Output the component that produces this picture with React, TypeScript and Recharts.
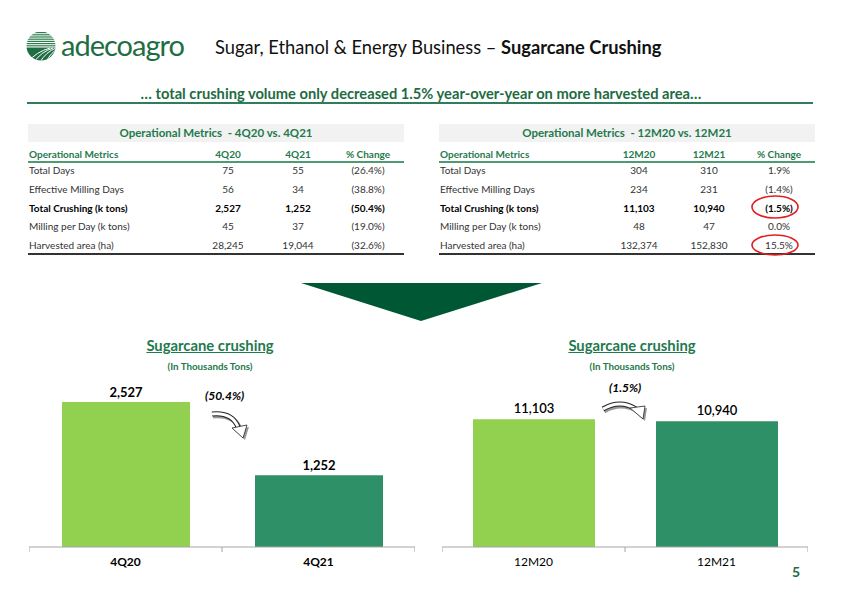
import React from 'react';
import { BarChart, Bar, XAxis, YAxis, Cell, LabelList } from 'recharts';

const quarterCategories = ['4Q20', '4Q21'];
const quarterValues = [2527, 1252];
const yearCategories = ['12M20', '12M21'];
const yearValues = [11103, 10940];
const quarterChangeLabel = '(50.4%)';
const yearChangeLabel = '(1.5%)';
const barColors = ['#92D050', '#2E9066'];

const metricNames = [
  'Total Days',
  'Effective Milling Days',
  'Total Crushing (k tons)',
  'Milling per Day (k tons)',
  'Harvested area (ha)',
];
const q20Values = ['75', '56', '2,527', '45', '28,245'];
const q21Values = ['55', '34', '1,252', '37', '19,044'];
const qChangeValues = ['(26.4%)', '(38.8%)', '(50.4%)', '(19.0%)', '(32.6%)'];
const m20Values = ['304', '234', '11,103', '48', '132,374'];
const m21Values = ['310', '231', '10,940', '47', '152,830'];
const mChangeValues = ['1.9%', '(1.4%)', '(1.5%)', '0.0%', '15.5%'];

const FONT = 'Lato, "Open Sans", sans-serif';
const GREEN = '#1F7A4D';
const DARK_GREEN = '#005733';

const quarterData = quarterCategories.map((name, i) => ({ name, value: quarterValues[i], pos: i + 0.5 }));
const yearData = yearCategories.map((name, i) => ({ name, value: yearValues[i], pos: i + 0.5 }));

const fmt = (v: any) => Number(v).toLocaleString('en-US');

function MetricsTable(props: {
  left: number;
  title: string;
  colA: string;
  colB: string;
  a: string[];
  b: string[];
  c: string[];
}) {
  const { left, title, colA, colB, a, b, c } = props;
  const width = 376;
  const colCenters = [200, 270, 340];
  const cell = (text: string, cx: number, top: number, style: React.CSSProperties, key: string) => (
    <div
      key={key}
      style={{
        position: 'absolute',
        left: left + cx - 40,
        width: 80,
        top,
        height: 19,
        lineHeight: '19px',
        textAlign: 'center',
        whiteSpace: 'nowrap',
        ...style,
      }}
    >
      {text}
    </div>
  );
  const headerStyle: React.CSSProperties = { color: GREEN, fontWeight: 'bold', fontSize: 10 };
  return (
    <>
      <div
        style={{
          position: 'absolute',
          left,
          top: 124,
          width,
          height: 18,
          lineHeight: '18px',
          background: '#F2F2F2',
          textAlign: 'center',
          color: GREEN,
          fontWeight: 'bold',
          fontSize: 11.5,
          whiteSpace: 'pre',
        }}
      >
        {title}
      </div>
      <div style={{ position: 'absolute', left: left + 1, top: 145, height: 19, lineHeight: '19px', ...headerStyle }}>
        Operational Metrics
      </div>
      {cell(colA, colCenters[0], 145, headerStyle, 'ha')}
      {cell(colB, colCenters[1], 145, headerStyle, 'hb')}
      {cell('% Change', colCenters[2], 145, headerStyle, 'hc')}
      <div style={{ position: 'absolute', left, top: 161, width, height: 1.5, background: '#4E9A72' }} />
      {metricNames.map((name, i) => {
        const top = 161 + i * 18.8;
        const bold = i === 2;
        const st: React.CSSProperties = {
          color: bold ? '#000' : '#333',
          fontWeight: bold ? 'bold' : 'normal',
          fontSize: 10,
        };
        return (
          <React.Fragment key={name}>
            <div style={{ position: 'absolute', left: left + 1, top, height: 19, lineHeight: '19px', whiteSpace: 'nowrap', ...st }}>
              {name}
            </div>
            {cell(a[i], colCenters[0], top, st, 'a' + i)}
            {cell(b[i], colCenters[1], top, st, 'b' + i)}
            {cell(c[i], colCenters[2], top, st, 'c' + i)}
          </React.Fragment>
        );
      })}
      <div style={{ position: 'absolute', left, top: 253, width, height: 1.5, background: '#333' }} />
    </>
  );
}

function ChartTitle({ cx }: { cx: number }) {
  return (
    <>
      <div
        style={{
          position: 'absolute',
          left: cx - 120,
          width: 240,
          top: 336,
          textAlign: 'center',
          color: GREEN,
          fontWeight: 'bold',
          fontSize: 14.8,
          textDecoration: 'underline',
          lineHeight: '18px',
        }}
      >
        Sugarcane crushing
      </div>
      <div
        style={{
          position: 'absolute',
          left: cx - 120,
          width: 240,
          top: 359,
          textAlign: 'center',
          color: GREEN,
          fontWeight: 'bold',
          fontSize: 9.8,
          lineHeight: '14px',
        }}
      >
        (In Thousands Tons)
      </div>
    </>
  );
}

function SmallBarChart(props: {
  data: { name: string; value: number; pos: number }[];
  left: number;
  plotTop: number;
  width: number;
  plotHeight: number;
  max: number;
  barSize: number;
  bold: boolean;
  labelOffset: number;
}) {
  const { data, left, plotTop, width, plotHeight, max, barSize, bold, labelOffset } = props;
  const ticks: number[] = [];
  for (let i = 0; i <= data.length * 2; i++) ticks.push(i / 2);
  const renderTick = (p: any) => {
    const v = Number(p.payload.value);
    if (Math.abs(v - Math.round(v)) < 1e-6) {
      return <line x1={p.x} x2={p.x} y1={p.y - 5} y2={p.y} stroke="#A6A6A6" strokeWidth={1} />;
    }
    const name = data[Math.floor(v)]?.name ?? '';
    return (
      <text
        x={p.x}
        y={p.y + 11}
        textAnchor="middle"
        dominantBaseline="middle"
        fill="#000"
        fontSize={12}
        fontWeight={bold ? 'bold' : 'normal'}
        fontFamily={FONT}
      >
        {name}
      </text>
    );
  };
  return (
    <div style={{ position: 'absolute', left, top: plotTop }}>
      <BarChart
        width={width}
        height={plotHeight + 36}
        data={data}
        margin={{ top: 0, right: 0, bottom: 0, left: 0 }}
      >
        <XAxis xAxisId="cat" dataKey="name" hide height={0} />
        <XAxis
          xAxisId="edge"
          dataKey="pos"
          type="number"
          domain={[0, data.length]}
          allowDataOverflow
          ticks={ticks}
          interval={0}
          height={36}
          tickSize={5}
          tickMargin={0}
          axisLine={{ stroke: '#A6A6A6', strokeWidth: 1 }}
          tickLine={false}
          tick={renderTick}
        />
        <YAxis hide domain={[0, max]} />
        <Bar dataKey="value" xAxisId="cat" barSize={barSize} isAnimationActive={false}>
          {data.map((d, i) => (
            <Cell key={d.name} fill={barColors[i % barColors.length]} />
          ))}
          <LabelList
            dataKey="value"
            position="top"
            offset={labelOffset}
            formatter={fmt}
            fill="#000"
            fontSize={13}
            fontWeight={bold ? 'bold' : 600}
            fontFamily={FONT}
          />
        </Bar>
      </BarChart>
    </div>
  );
}

export default function App() {
  return (
    <div
      style={{
        position: 'absolute',
        left: 0,
        top: 0,
        width: 842,
        height: 595,
        background: '#fff',
        fontFamily: FONT,
        overflow: 'hidden',
      }}
    >
      {/* logo text */}
      <div style={{ position: 'absolute', left: 61, top: 27, fontSize: 29, color: '#1F6E43', lineHeight: '36px', letterSpacing: -1 }}>
        adecoagro
      </div>
      {/* title */}
      <div style={{ position: 'absolute', left: 215, top: 35, fontSize: 18.3, color: '#111', lineHeight: '24px', whiteSpace: 'nowrap' }}>
        Sugar, Ethanol &amp; Energy Business – <b>Sugarcane Crushing</b>
      </div>
      {/* subtitle */}
      <div
        style={{
          position: 'absolute',
          left: 0,
          width: 842,
          top: 84,
          textAlign: 'center',
          fontSize: 14.7,
          fontWeight: 'bold',
          color: '#1E6B42',
          lineHeight: '18px',
          whiteSpace: 'nowrap',
        }}
      >
        … total crushing volume only decreased 1.5% year-over-year on more harvested area…
      </div>
      <div style={{ position: 'absolute', left: 27, top: 102, width: 786, height: 2, background: '#2E7D5B' }} />

      <MetricsTable
        left={28}
        title={'Operational Metrics  - 4Q20 vs. 4Q21'}
        colA="4Q20"
        colB="4Q21"
        a={q20Values}
        b={q21Values}
        c={qChangeValues}
      />
      <MetricsTable
        left={439}
        title={'Operational Metrics  - 12M20 vs. 12M21'}
        colA="12M20"
        colB="12M21"
        a={m20Values}
        b={m21Values}
        c={mChangeValues}
      />

      <ChartTitle cx={210} />
      <ChartTitle cx={632} />

      <SmallBarChart
        data={quarterData}
        left={29}
        plotTop={375}
        width={386}
        plotHeight={172}
        max={3000}
        barSize={128}
        bold={true}
        labelOffset={5}
      />
      <SmallBarChart
        data={yearData}
        left={442}
        plotTop={386}
        width={366}
        plotHeight={161}
        max={14000}
        barSize={122}
        bold={false}
        labelOffset={6}
      />

      <div style={{ position: 'absolute', left: 205, top: 388, fontSize: 12, fontWeight: 'bold', fontStyle: 'italic', lineHeight: '16px' }}>
        {quarterChangeLabel}
      </div>
      <div style={{ position: 'absolute', left: 609, top: 380, fontSize: 12, fontWeight: 'bold', fontStyle: 'italic', lineHeight: '16px' }}>
        {yearChangeLabel}
      </div>

      <div style={{ position: 'absolute', left: 792, top: 563, fontSize: 14, fontWeight: 'bold', color: '#1E6B43', lineHeight: '18px' }}>
        5
      </div>

      <svg width={842} height={595} style={{ position: 'absolute', left: 0, top: 0, pointerEvents: 'none' }}>
        <defs>
          <clipPath id="globe">
            <circle cx={41} cy={46} r={14.5} />
          </clipPath>
        </defs>
        {/* logo icon */}
        <g clipPath="url(#globe)">
          <rect x={26} y={31} width={30} height={30} fill="#fff" />
          {[0, 1, 2, 3, 4, 5, 6].map((i) => (
            <rect key={i} x={26} y={32 + i * 2.2} width={30} height={1.2} fill="#2E7D4F" />
          ))}
          <rect x={26} y={47.5} width={30} height={14} fill="#1F6E43" />
          {[0, 1, 2, 3].map((i) => (
            <path key={'a' + i} d={`M${28 + i * 6},62 Q${36 + i * 5},52 ${50 + i * 3},48`} stroke="#fff" strokeWidth={1} fill="none" />
          ))}
        </g>

        {/* down triangle */}
        <polygon points="301,283 542,283 421,321" fill={DARK_GREEN} />

        {/* red ellipses */}
        <ellipse cx={775} cy={207} rx={23} ry={11} fill="none" stroke="#E02020" strokeWidth={1.6} />
        <ellipse cx={775} cy={245} rx={23} ry={10} fill="none" stroke="#E02020" strokeWidth={1.6} />

        {/* left curved arrow */}
        <g>
          <path d="M213,416 Q234,414 240,429" stroke="#999" strokeWidth={5} fill="none" />
          <polygon points="234,430 249,427 245,440" fill="#999" />
          <path d="M212,414 Q232,412 238,427" stroke="#222" strokeWidth={5} fill="none" />
          <path d="M212,414 Q232,412 238,427" stroke="#fff" strokeWidth={3} fill="none" />
          <polygon points="232,428 247,425 243,438" fill="#fff" stroke="#222" strokeWidth={0.8} />
        </g>
        {/* right curved arrow */}
        <g>
          <path d="M604,411 Q621,401 638,411" stroke="#999" strokeWidth={5} fill="none" />
          <polygon points="632,410 647,408 645,421" fill="#999" />
          <path d="M603,409 Q620,399 636,409" stroke="#222" strokeWidth={5} fill="none" />
          <path d="M603,409 Q620,399 636,409" stroke="#fff" strokeWidth={3} fill="none" />
          <polygon points="630,408 645,406 643,419" fill="#fff" stroke="#222" strokeWidth={0.8} />
        </g>
      </svg>
    </div>
  );
}
